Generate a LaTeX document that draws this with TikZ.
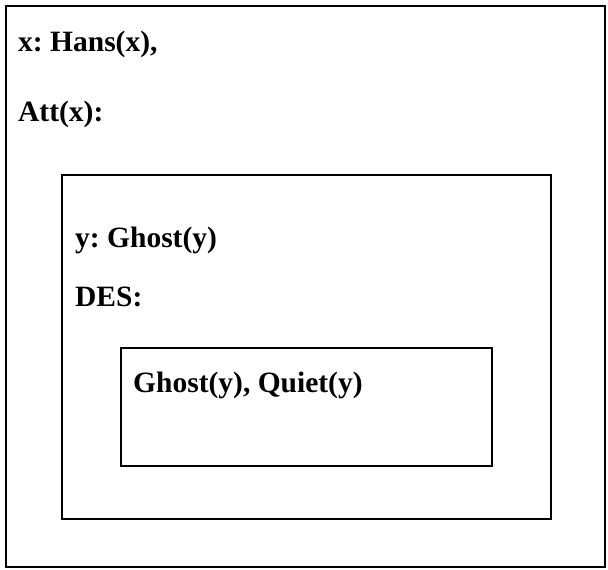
\documentclass[tikz,border=0pt]{standalone}
\usepackage{fontspec}
\setmainfont{Liberation Serif}
\begin{document}
\frenchspacing
\begin{tikzpicture}[x=1pt,y=-1pt,
  frame/.style={draw=black,line width=1.2pt},
  lbl/.style={anchor=base west,inner sep=0pt,font=\fontsize{29.5}{32}\selectfont\bfseries}]
\useasboundingbox (0,0) rectangle (608,570);
\draw[frame] (6,6) rectangle (605,567);
\draw[frame] (62,175) rectangle (551,519);
\draw[frame] (121,348) rectangle (492,466);
\node[lbl] (t1) at (18,51) {x: Hans(x),};
\node[lbl] (t2) at (18,121) {Att(x):};
\node[lbl] (t3) at (75,247) {y: Ghost(y)};
\node[lbl] (t4) at (75,306) {DES:};
\node[lbl] (t5) at (133,392) {Ghost(y), Quiet(y)};
\end{tikzpicture}
\end{document}
